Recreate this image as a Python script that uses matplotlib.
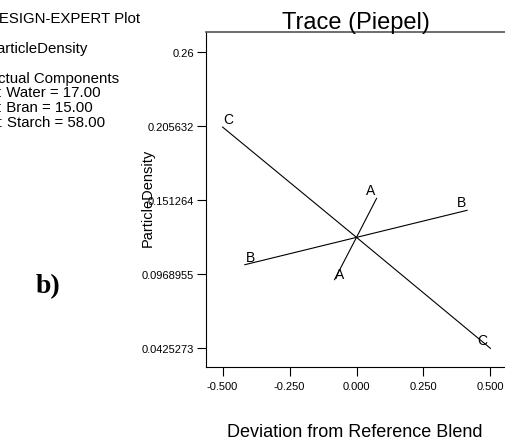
import matplotlib
matplotlib.use("Agg")
import matplotlib.pyplot as plt

plt.rcParams["font.family"] = ["Liberation Sans", "DejaVu Sans"]

# component traces (deviation from reference blend -> ParticleDensity)
dev_a = [-0.082, 0.0, 0.075]
dens_a = [0.0928, 0.1239, 0.1526]
dev_b = [-0.417, 0.0, 0.413]
dens_b = [0.1038, 0.1239, 0.1438]
dev_c = [-0.5, 0.0, 0.5]
dens_c = [0.2050, 0.1239, 0.0423]

y_ticks = [0.0425273, 0.0968955, 0.151264, 0.205632, 0.26]
y_tick_labels = ["0.0425273", "0.0968955", "0.151264", "0.205632", "0.26"]
x_ticks = [-0.5, -0.25, 0.0, 0.25, 0.5]
x_tick_labels = ["-0.500", "-0.250", "0.000", "0.250", "0.500"]

info_lines = [
    "DESIGN-EXPERT Plot",
    "ParticleDensity",
    "Actual Components",
    "A: Water = 17.00",
    "B: Bran = 15.00",
    "C: Starch = 58.00",
]

W, H = 506, 439
fig = plt.figure(figsize=(W / 100, H / 100), dpi=100)
ax = fig.add_axes([206 / W, 1 - 367.7 / H, (507 - 206) / W, (367.7 - 33.3) / H])

for xs, ys in [(dev_a, dens_a), (dev_b, dens_b), (dev_c, dens_c)]:
    ax.plot(xs, ys, color="black", linewidth=0.8)


def tag(txt, x, y, dx, dy):
    ax.annotate(txt, (x, y), xytext=(dx, dy), textcoords="offset points",
                ha="center", va="center", fontsize=10)


tag("A", dev_a[0], dens_a[0], 3.5, 4)
tag("A", dev_a[-1], dens_a[-1], -4.5, 6)
tag("B", dev_b[0], dens_b[0], 4, 5.5)
tag("B", dev_b[-1], dens_b[-1], -4.3, 5.8)
tag("C", dev_c[0], dens_c[0], 4, 5.6)
tag("C", dev_c[-1], dens_c[-1], -5.7, 5.8)

ax.set_xlim(-0.562, 0.562)
ax.set_ylim(0.0288, 0.2747)
ax.set_xticks(x_ticks)
ax.set_xticklabels(x_tick_labels)
ax.set_yticks(y_ticks)
ax.set_yticklabels(y_tick_labels)
ax.tick_params(axis="both", direction="out", length=6.5, width=0.8, labelsize=8)
ax.tick_params(axis="y", pad=2)
ax.tick_params(axis="x", pad=3.5)
ax.spines["right"].set_visible(False)
for s in ["left", "bottom"]:
    ax.spines[s].set_linewidth(0.8)
ax.spines["top"].set_color("#555555")
ax.spines["top"].set_linewidth(1.2)

fig.text(356 / W, 1 - 29.3 / H, "Trace (Piepel)", ha="center", va="baseline", fontsize=17)
fig.text(148 / W, 1 - 198 / H, "ParticleDensity", rotation=90, ha="center", va="center", fontsize=10.5)
fig.text(355 / W, 1 - 437.3 / H, "Deviation from Reference Blend", ha="center", va="baseline", fontsize=13)

baselines = [22.7, 53.3, 82.7, 97.3, 112.5, 127]
for line, yb in zip(info_lines, baselines):
    fig.text(-12 / W, 1 - yb / H, line, ha="left", va="baseline", fontsize=10.8)

fig.text(36 / W, 1 - 293 / H, "b)", ha="left", va="baseline", fontsize=20,
         fontweight="bold", family="Liberation Serif")

fig.savefig("out.png", dpi=100)
